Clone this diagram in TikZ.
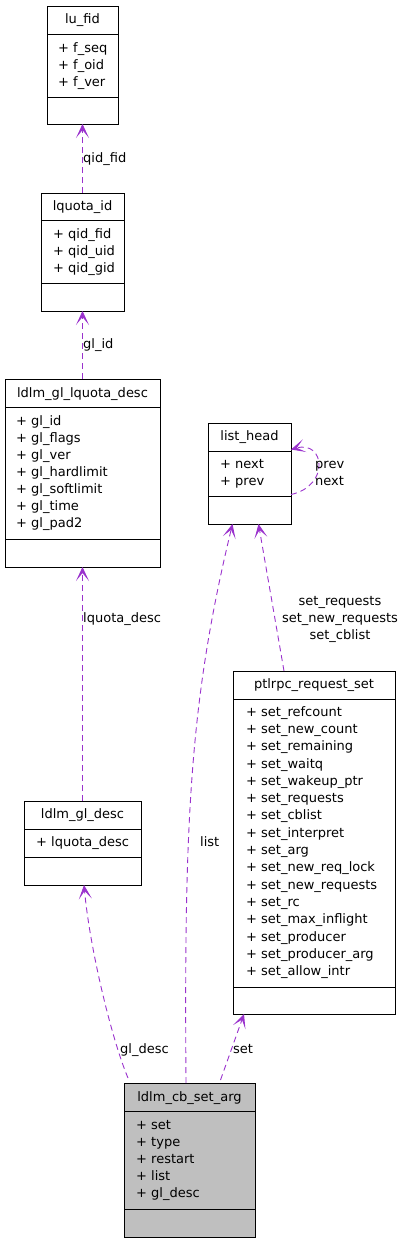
\documentclass[tikz,border=0pt]{standalone}
\usepackage{fontspec}
\setmainfont{DejaVu Sans}
\usetikzlibrary{arrows.meta,calc}
\definecolor{edgec}{HTML}{9A32CD}
\definecolor{cbfill}{HTML}{BFBFBF}
\newcommand\clsbox[8]{%
  \node[box, minimum width=#4pt, minimum height=#5pt, fill=#8] (#1) at (#2,#3) {};
  \draw[divl] (#2,#6) -- (#2+#4,#6) (#2,#7) -- (#2+#4,#7);}
\begin{document}
\begin{tikzpicture}[x=1pt,y=-1pt,
  box/.style={draw=black, line width=0.9pt, anchor=north west, inner sep=0, outer sep=0},
  divl/.style={draw=black, line width=0.9pt},
  txt/.style={inner sep=0, font=\fontsize{13}{16}\selectfont},
  ttl/.style={txt, anchor=base},
  attr/.style={txt, anchor=base west},
  lbl/.style={txt, anchor=base west},
  rel/.style={draw=edgec, line width=0.9pt, dash pattern=on 6pt off 4pt,
    -{Stealth[length=14pt,width=13pt,inset=8pt]}},
]
\useasboundingbox (0,0) rectangle (408,1243);

% boxes
\clsbox{lufid}{47}{6}{71}{118}{34}{97}{white}
\clsbox{lqid}{41}{193}{83}{118}{220}{283}{white}
\clsbox{gllq}{5}{379}{155}{188}{407}{539}{white}
\clsbox{lh}{208}{423}{83}{101}{451}{496}{white}
\clsbox{ptl}{233}{671}{162}{343}{699}{987}{white}
\clsbox{gld}{24}{801}{117}{84}{829}{857}{white}
\clsbox{cb}{124}{1083}{131}{154}{1111}{1209}{cbfill}

% lu_fid
\node[ttl] (t1) at (82.5,23) {lu\_fid};
\foreach \t [count=\i from 0] in {f\_seq, f\_oid, f\_ver}
  \node[attr] (a1\i) at (58,52+17*\i) {+ \t};
% lquota_id
\node[ttl] (t2) at (82.5,210) {lquota\_id};
\foreach \t [count=\i from 0] in {qid\_fid, qid\_uid, qid\_gid}
  \node[attr] (a2\i) at (53,238+17*\i) {+ \t};
% ldlm_gl_lquota_desc
\node[ttl] (t3) at (82.5,397) {ldlm\_gl\_lquota\_desc};
\foreach \t [count=\i from 0] in {gl\_id, gl\_flags, gl\_ver, gl\_hardlimit, gl\_softlimit, gl\_time, gl\_pad2}
  \node[attr] (a3\i) at (16,425+17*\i) {+ \t};
% list_head
\node[ttl] (t4) at (249.5,440) {list\_head};
\foreach \t [count=\i from 0] in {next, prev}
  \node[attr] (a4\i) at (220,468+17*\i) {+ \t};
% ptlrpc_request_set
\node[ttl] (t5) at (314,688) {ptlrpc\_request\_set};
\foreach \t [count=\i from 0] in {set\_refcount, set\_new\_count, set\_remaining, set\_waitq, set\_wakeup\_ptr, set\_requests, set\_cblist, set\_interpret, set\_arg, set\_new\_req\_lock, set\_new\_requests, set\_rc, set\_max\_inflight, set\_producer, set\_producer\_arg, set\_allow\_intr}
  \node[attr] (a5\i) at (246,716+17.33*\i) {+ \t};
% ldlm_gl_desc
\node[ttl] (t6) at (82.5,818) {ldlm\_gl\_desc};
\node[attr] (a60) at (36,846) {+ lquota\_desc};
% ldlm_cb_set_arg
\node[ttl] (t7) at (189.5,1101) {ldlm\_cb\_set\_arg};
\foreach \t [count=\i from 0] in {set, type, restart, list, gl\_desc}
  \node[attr] (a7\i) at (136,1129+17.2*\i) {+ \t};

% connectors
\draw[rel] (lqid.north) -- (lufid.south);
\node[lbl] (l1) at (83,162) {qid\_fid};
\draw[rel] (gllq.north) -- (lqid.south);
\node[lbl] (l2) at (83,348) {gl\_id};
\draw[rel] (gld.north) -- (gllq.south);
\node[lbl] (l3) at (83,622) {lquota\_desc};
\draw[rel] ($(cb.north west)+(4,-5)$) .. controls (112,1040) and (90,950) .. ($(gld.south)+(1.5,0)$);
\node[lbl] (l4) at (120,1053) {gl\_desc};
\draw[rel] ($(cb.north)+(-3.5,0)$) .. controls (184,820) and (190,700) .. ($(lh.south)+(-17,0)$);
\node[lbl] (l5) at (200,846) {list};
\draw[rel] ($(ptl.north)+(-30,0)$) -- ($(lh.south)+(9,0)$);
\node[txt, anchor=base] (l6a) at (340,605) {set\_requests};
\node[txt, anchor=base] (l6b) at (340,622) {set\_new\_requests};
\node[txt, anchor=base] (l6c) at (340,639) {set\_cblist};
\draw[rel] ($(cb.north)+(31,-3)$) -- ($(ptl.south west)+(11,0)$);
\node[lbl] (l7) at (233,1053) {set};
\draw[rel] ($(lh.east)+(0,21)$) .. controls (330,486) and (325,440) .. ($(lh.east)+(0,-24)$);
\node[lbl] (l8a) at (315,468) {prev};
\node[lbl] (l8b) at (315,485) {next};
\end{tikzpicture}
\end{document}
